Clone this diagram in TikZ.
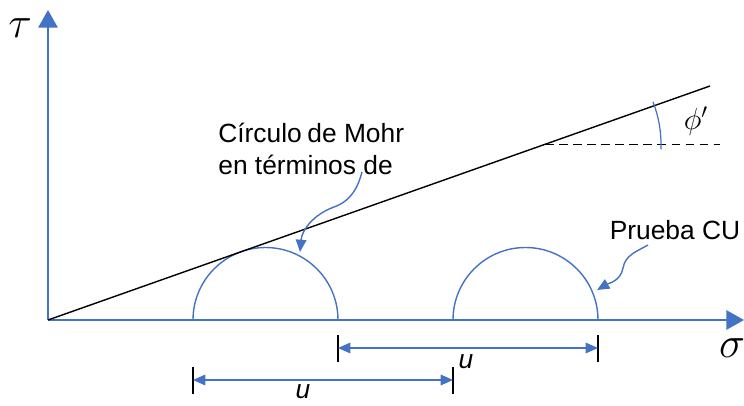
\documentclass[tikz,border=0pt]{standalone}
\usepackage{fontspec}
\setmainfont{Liberation Sans}
\usepackage{amsmath}
\usetikzlibrary{arrows.meta,positioning,calc}
\definecolor{mblue}{RGB}{68,114,196}

\begin{document}
\begin{tikzpicture}[
  ax/.style={-{Triangle[length=10pt,width=11pt]}, mblue, line width=0.9pt},
  dimarr/.style={{Triangle[length=7pt,width=6pt]}-{Triangle[length=7pt,width=6pt]}, mblue, line width=0.9pt},
  pointer/.style={-{Triangle[length=7pt,width=6pt]}, mblue, line width=0.8pt},
  lbl/.style={font=\fontsize{15}{18}\selectfont, inner sep=0pt}
]
\useasboundingbox (-0.96,-1.7) rectangle (13.92,6.4);
\coordinate (O) at (0,0);
\coordinate (tauTip) at (0,6.2);
\coordinate (sigTip) at (13.92,0);
\coordinate (envEnd) at (13.24,4.68);
% semicircles
\foreach \c/\nm in {4.35/A,9.55/B} {
  \draw[mblue, line width=0.8pt] (\c+1.45,0) arc (0:180:1.45);
  \coordinate (\nm-l) at (\c-1.45,0);
  \coordinate (\nm-r) at (\c+1.45,0);
}
% axes and envelope
\draw[ax] (O) -- (tauTip);
\draw[ax] (O) -- (sigTip);
\draw[line width=0.8pt] (O) -- (envEnd);
\node[font=\fontsize{24}{28}\selectfont] (tau) at (-0.56,5.84) {$\tau$};
\node[font=\fontsize{26}{30}\selectfont] (sigma) at (13.68,-0.56) {$\sigma$};
% friction angle
\coordinate (dashA) at (9.94,3.514);
\coordinate (dashB) at (13.44,3.514);
\draw[dash pattern=on 5pt off 3pt, line width=0.8pt] (dashA) -- (dashB);
\draw[mblue, line width=0.7pt] (dashA) ++(-2.5:2.32) arc (-2.5:21.5:2.32);
\node[lbl, font=\fontsize{18}{20}\selectfont] (phi) at (12.96,3.98) {$\phi'$};
% labels and pointers
\node[lbl, align=left, anchor=west] (mohr) at (3.4,3.42) {Círculo\hspace{-1pt} de Mohr\\en términos de};
\coordinate (mohrS) at (6.28,2.96);
\coordinate (mohrM) at (5.72,2.26);
\coordinate (mohrE) at (5.04,1.36);
\draw[pointer] (mohrS) to[out=-105,in=20] (mohrM) to[out=200,in=85] (mohrE);
\node[lbl] (cu) at (12.54,1.8) {Prueba CU};
\coordinate (cuS) at (12.0,1.5);
\coordinate (cuM) at (11.5,1.04);
\coordinate (cuE) at (10.98,0.6);
\draw[pointer] (cuS) to[out=210,in=80] (cuM) to[out=-100,in=30] (cuE);
% pore pressure offsets
\coordinate (d1a) at (5.8,-0.56);
\coordinate (d1b) at (11.0,-0.56);
\coordinate (d2a) at (2.9,-1.2);
\coordinate (d2b) at (8.1,-1.2);
\foreach \p in {d1a,d1b,d2a,d2b}
  \draw[line width=0.9pt] (\p) ++(0,0.26) -- ++(0,-0.54);
\draw[dimarr] (d1a) -- (d1b);
\draw[dimarr] (d2a) -- (d2b);
\node[lbl] (u1) at (8.36,-0.84) {\textit{u}};
\node[lbl] (u2) at (5.1,-1.44) {\textit{u}};
\end{tikzpicture}
\end{document}
